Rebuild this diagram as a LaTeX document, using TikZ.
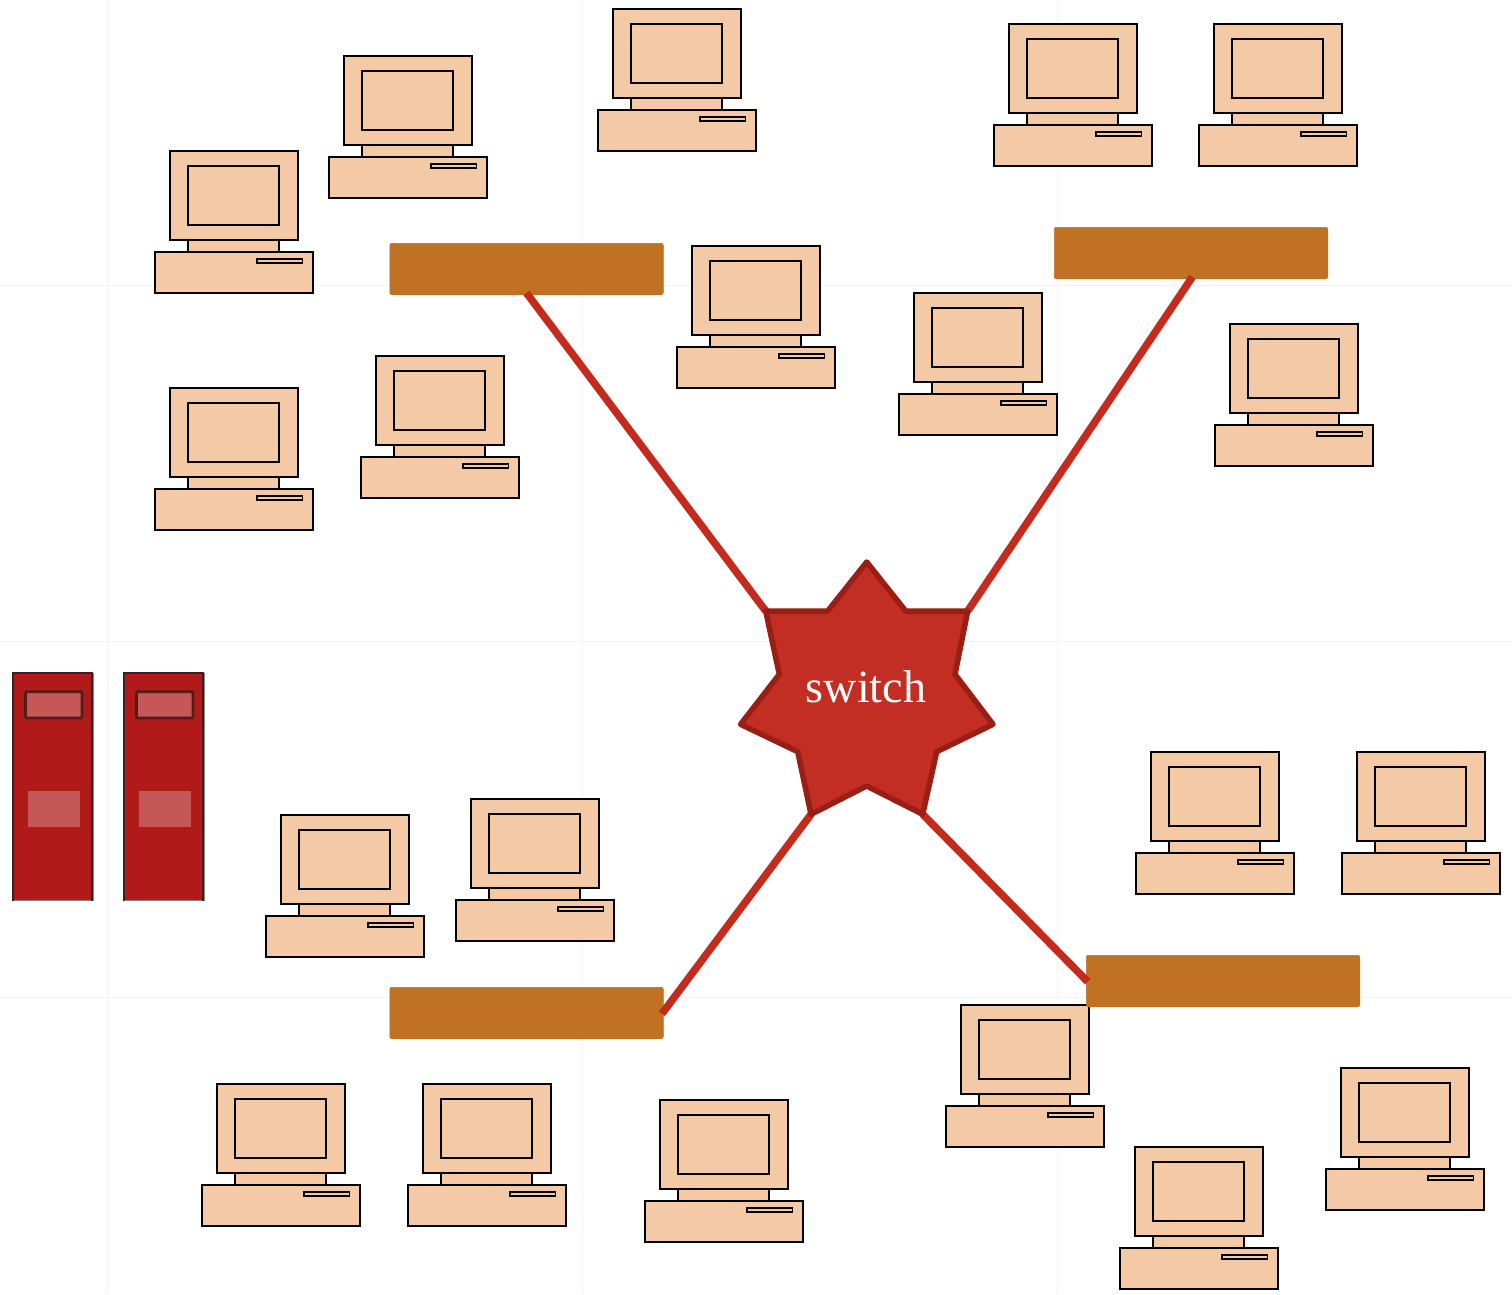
\documentclass[tikz,border=0pt]{standalone}
\usepackage{fontspec}
\setmainfont{Liberation Serif}
\definecolor{pcfill}{HTML}{F4C9A6}
\definecolor{barfill}{HTML}{C07122}
\definecolor{linkred}{HTML}{C42B1C}
\definecolor{starfill}{HTML}{C22E23}
\definecolor{starline}{HTML}{991E14}
\definecolor{srvfill}{HTML}{B01A18}
\definecolor{srvlight}{HTML}{C65757}
\definecolor{srvdark}{HTML}{3A2020}
\definecolor{srvgrey}{HTML}{8A8486}
\definecolor{gridline}{HTML}{F3F3F3}
\tikzset{
  pcpart/.style={draw=black,fill=pcfill,line width=2pt,line join=miter},
  hubbar/.style={rectangle,fill=barfill,draw=barfill,line width=0.5pt,rounded corners=2pt,minimum width=273.5pt,minimum height=51.5pt,inner sep=0pt},
  link/.style={draw=linkred,line width=7.5pt,shorten <=-2.5pt},
  gridrule/.style={draw=gridline,line width=1pt},
  pics/computer/.style={code={
    \path[pcpart] (18,89) rectangle (109,101);
    \path[pcpart] (0,0) rectangle (128,89);
    \path[pcpart] (18,14.5) rectangle (109,74);
    \path[pcpart] (-15.2,101) rectangle (142.8,142);
    \path[draw=black,fill=pcfill,line width=1.7pt] (87,107.8) rectangle (132.5,112.2);
  }},
  pics/server/.style={code={
    \fill[srvfill] (0,0) rectangle (80,227.5);
    \draw[srvgrey,line width=1.6pt] (80,0) -- (80,227.5) -- (0,227.5);
    \draw[srvdark,line width=1.6pt] (0,227.5) -- (0,0) -- (79,0) -- (79,227.5);
    \draw[srvdark!85!srvfill,fill=srvlight,line width=2.8pt,rounded corners=1pt] (12.5,18.8) rectangle (69,45);
    \fill[srvlight] (15,118) rectangle (67,154);
  }}
}
\begin{document}
\begin{tikzpicture}[x=1pt,y=-1pt]
\useasboundingbox (0,0) rectangle (1512,1294);
% faint background grid
\foreach \gx in {107,582,1057} \draw[gridrule] (\gx,0) -- (\gx,1294);
\foreach \gy in {285,641,997} \draw[gridrule] (0,\gy) -- (1512,\gy);
% computers
\foreach \cx/\cy in {170/151,344/56,613/9,1009/24,1214/24,692/246,914/293,1230/324,170/388,376/356,
  1151/752,1357/752,281/815,471/799,961/1005,1341/1068,217/1084,423/1084,660/1100,1135/1147}
  \pic at (\cx,\cy) {computer};
% servers
\pic at (13,673) {server};
\pic at (124,673) {server};
% hub bars
\node[hubbar] (hubA) at (526.5,269) {};
\node[hubbar] (hubB) at (1191,253) {};
\node[hubbar] (hubC) at (526.5,1013) {};
\node[hubbar] (hubD) at (1223,981) {};
% star corners
\coordinate (sTL) at (765.7,611);
\coordinate (sTR) at (967.7,611);
\coordinate (sBL) at (811,814.3);
\coordinate (sBR) at (922.7,814.3);
% links
\draw[link] ([xshift=1.5pt]hubA.south) -- (sTL);
\draw[link] (hubB.south) -- (sTR);
\draw[link,shorten <=-1pt] ([xshift=-1pt]hubC.east) -- (sBL);
\draw[link,shorten <=-1pt] ([xshift=1pt]hubD.west) -- (sBR);
% switch star
\draw[draw=starline,fill=starfill,line width=5.5pt,line join=round]
  (866.7,562) -- (905.7,611) -- (sTR) -- (955,674.3) -- (993,724.3) -- (936.7,751.7)
  -- (sBR) -- (866.7,786) -- (sBL) -- (797.7,751.7) -- (740.6,724.3) -- (779.3,674.3)
  -- (sTL) -- (827.7,611) -- cycle;
\node[text=white,font=\fontsize{46pt}{46pt}\selectfont,inner sep=0pt,anchor=base] (switchlabel) at (866,702) {switch};
\end{tikzpicture}
\end{document}
